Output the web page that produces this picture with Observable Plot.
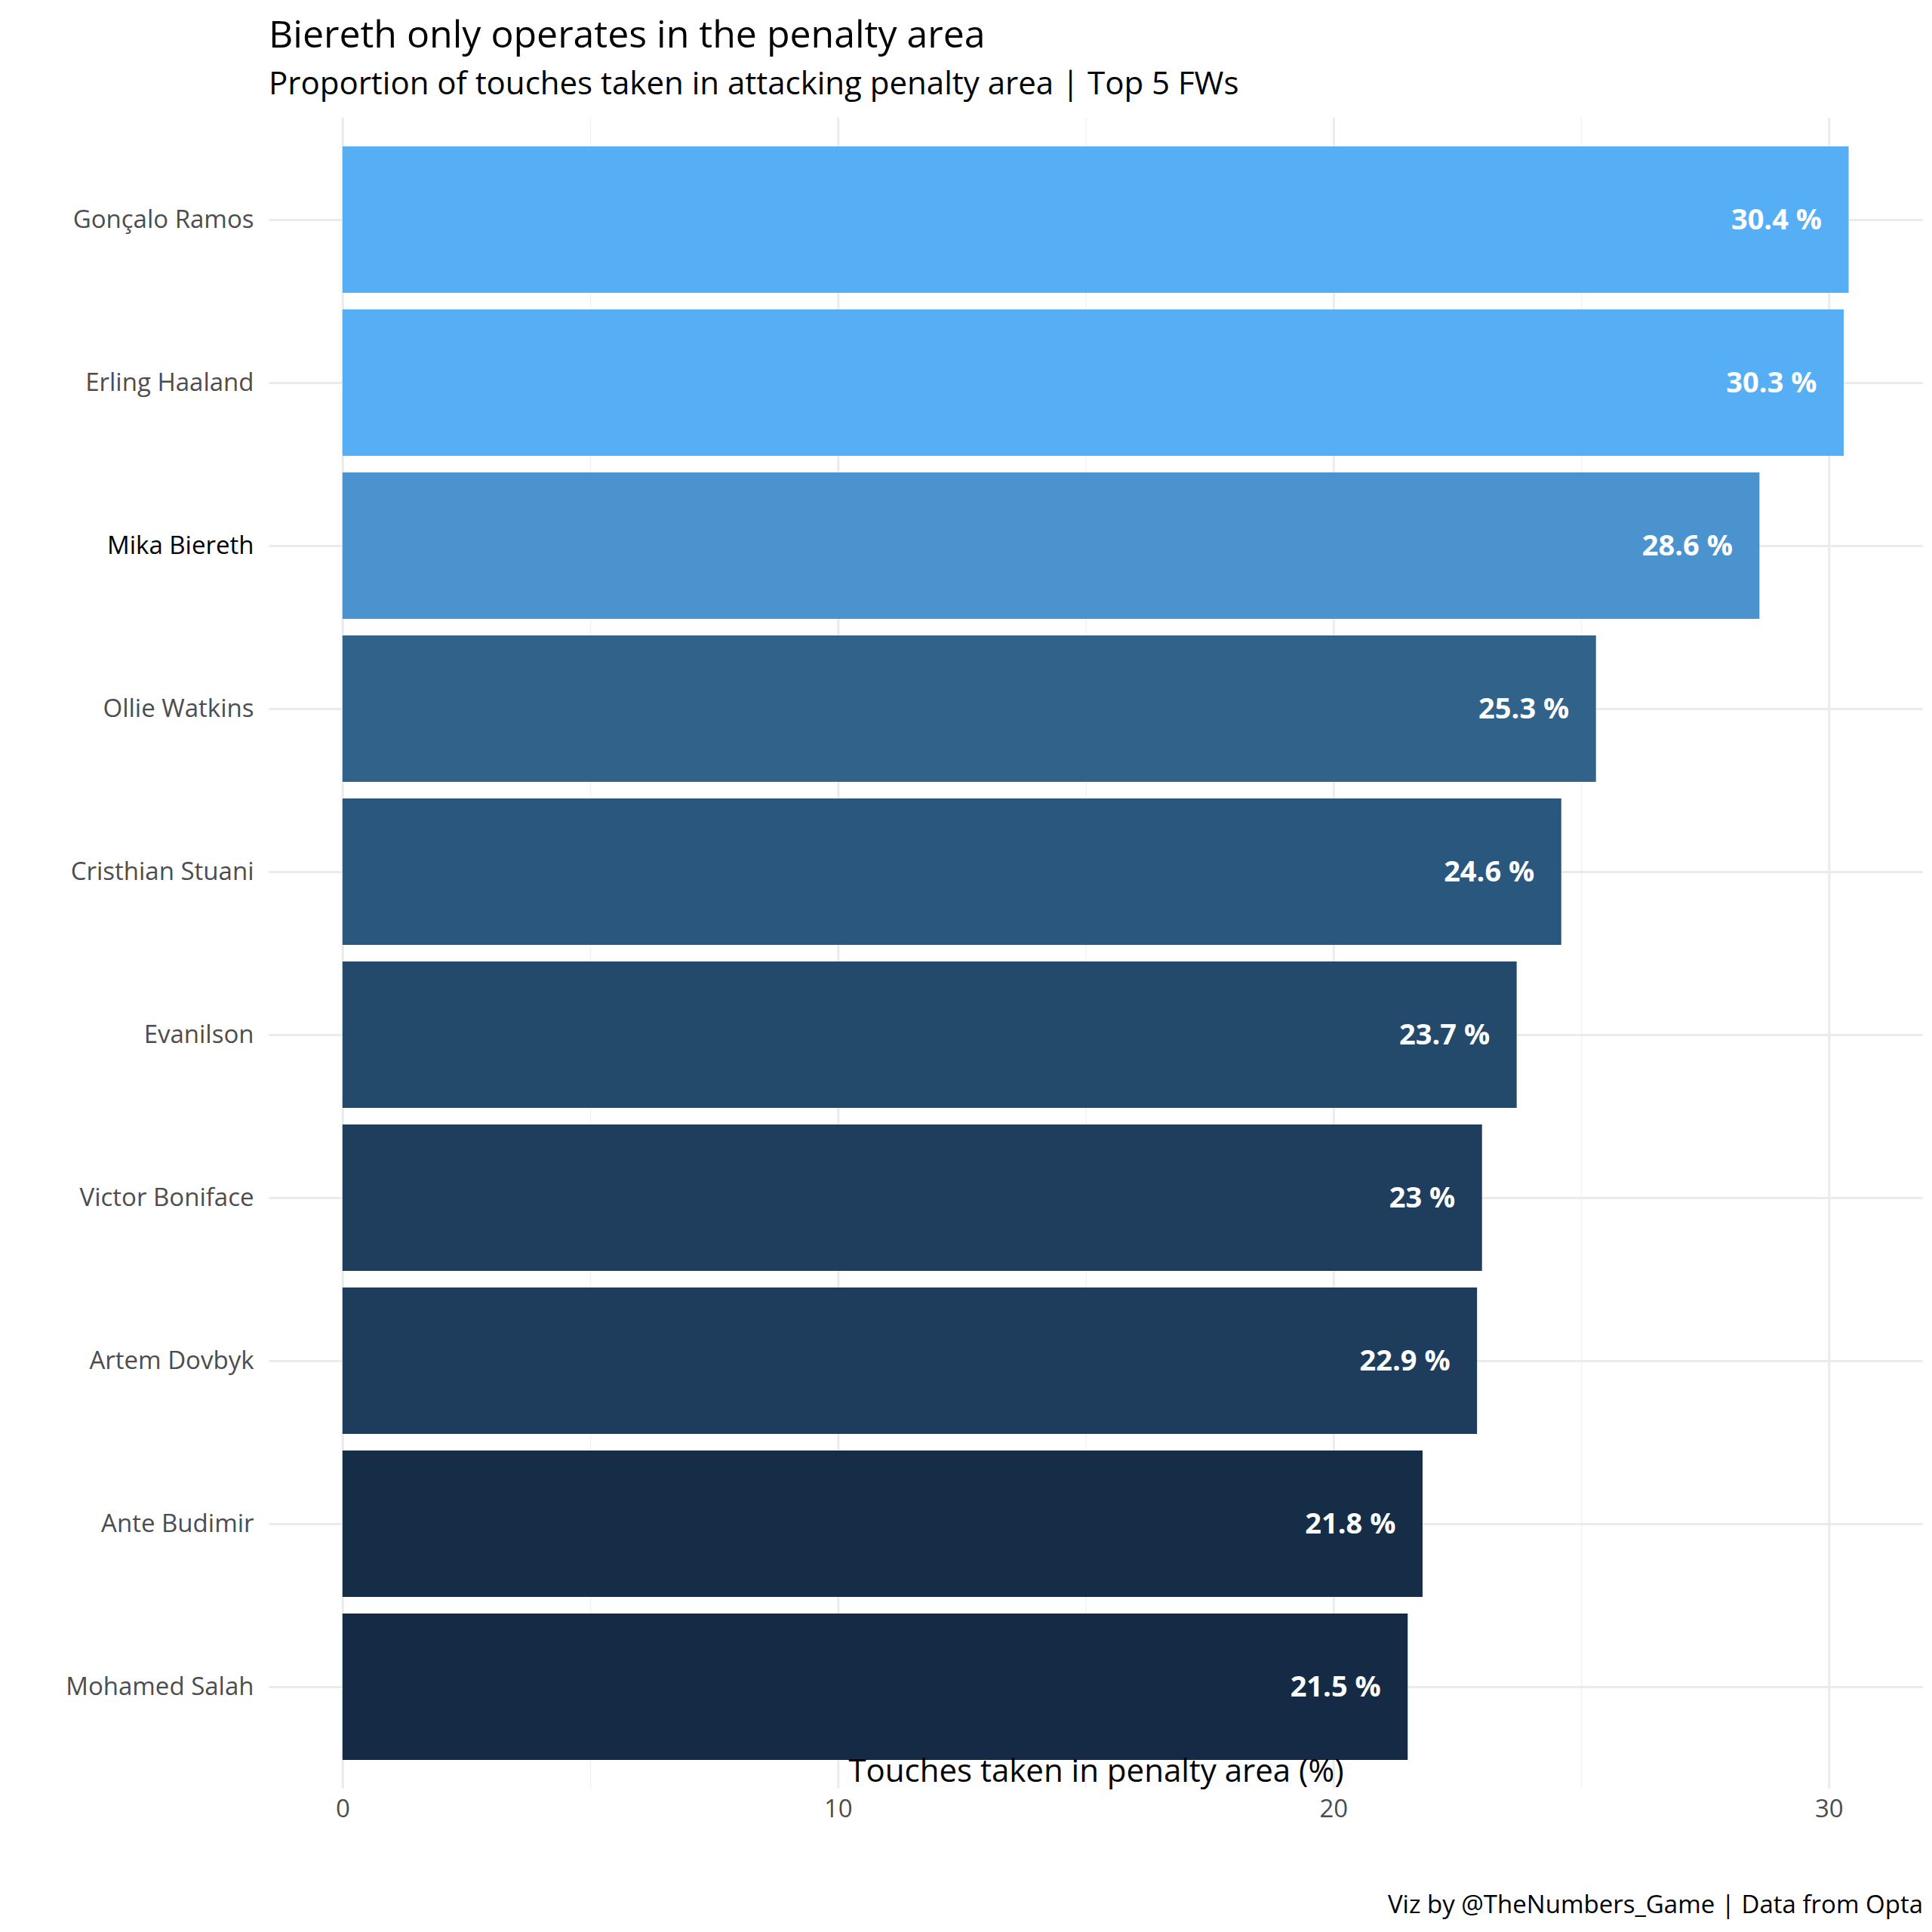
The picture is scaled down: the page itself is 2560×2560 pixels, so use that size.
<!DOCTYPE html>
<html><head><meta charset="utf-8">
<script src="https://cdn.jsdelivr.net/npm/d3@7"></script>
<script src="https://cdn.jsdelivr.net/npm/@observablehq/plot@0.6"></script>
<style>
body{margin:0;background:#fff;font-family:"Open Sans",sans-serif;width:2560px}
#t{position:absolute;left:356px;top:10px;font-size:50px;color:#000}
#s{position:absolute;left:356px;top:80px;font-size:42px;color:#000}
#c{position:absolute;right:12px;top:2500px;font-size:33px;color:#000}
#p{position:absolute;left:0;top:150px}
</style></head><body>
<div id="t">Biereth only operates in the penalty area</div>
<div id="s">Proportion of touches taken in attacking penalty area | Top 5 FWs</div>
<div id="p"></div>
<div id="c">Viz by @TheNumbers_Game | Data from Opta</div>
<script>
const players = ["Gonçalo Ramos","Erling Haaland","Mika Biereth","Ollie Watkins","Cristhian Stuani","Evanilson","Victor Boniface","Artem Dovbyk","Ante Budimir","Mohamed Salah"];
const values = [30.4,30.3,28.6,25.3,24.6,23.7,23.0,22.9,21.8,21.5];
const labels = ["30.4 %","30.3 %","28.6 %","25.3 %","24.6 %","23.7 %","23 %","22.9 %","21.8 %","21.5 %"];
const colors = ["#56AFF5","#56AEF4","#4A93CF","#30628A","#2A577D","#244A6B","#1F3D5D","#1E3D5C","#152D46","#152B45"];
const majorTicks = [0,10,20,30];
const minorTicks = [5,15,25];
const data = players.map((p,i)=>({p,v:values[i],l:labels[i],c:colors[i]}));
const chart = Plot.plot({
  width:2560, height:2350, marginLeft:356, marginRight:12, marginTop:6, marginBottom:130,
  style:{fontFamily:"Open Sans", background:"#fff"},
  x:{domain:[-1.49,31.9], axis:null},
  y:{domain:players, paddingInner:0.1, paddingOuter:0.16, axis:null},
  marks:[
    Plot.ruleX(minorTicks,{stroke:"#F2F2F2",strokeWidth:1.5}),
    Plot.ruleX(majorTicks,{stroke:"#EBEBEB",strokeWidth:3}),
    Plot.ruleY(players,{y:d=>d,stroke:"#EBEBEB",strokeWidth:3}),
    Plot.barX(data,{x1:0,x2:"v",y:"p",fill:"c"}),
    Plot.text(data,{x:"v",y:"p",text:"l",textAnchor:"end",dx:-36,fill:"#fff",fontWeight:"bold",fontSize:38}),
    Plot.text(data,{x:-1.49,y:"p",text:"p",textAnchor:"end",dx:-20,fontSize:33,
      fill:d=>d.p==="Mika Biereth"?"#000":"#4D4D4D",
      fontWeight:d=>d.p==="Mika Biereth"?"bold":"normal",
      fontFamily:d=>d.p==="Mika Biereth"?"Liberation Sans":"Open Sans"}),
    Plot.axisX(majorTicks,{tickSize:0,tickPadding:14,fontSize:33,color:"#4D4D4D",label:null}),
    Plot.text(["Touches taken in penalty area (%)"],{frameAnchor:"bottom",dy:-10,fontSize:42,fill:"#000",x:null,y:null})
  ]
});
document.getElementById("p").appendChild(chart);
</script></body></html>
